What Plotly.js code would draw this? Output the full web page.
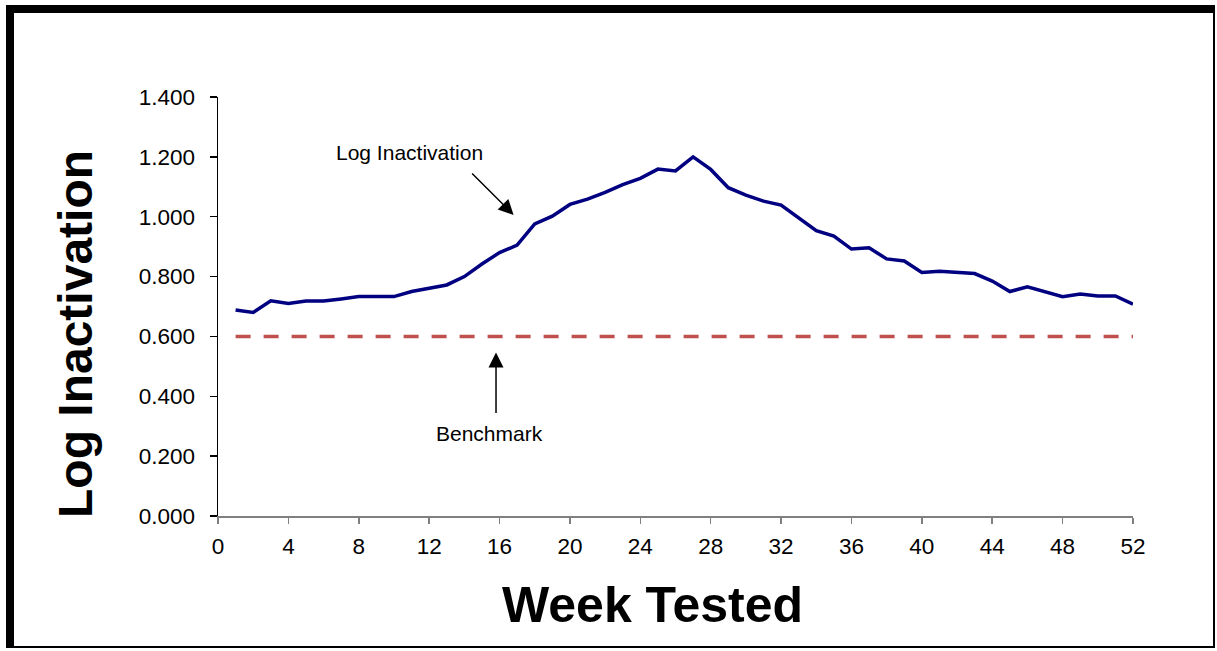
<!DOCTYPE html>
<html>
<head>
<meta charset="utf-8">
<script src="https://cdn.plot.ly/plotly-3.0.1.min.js"></script>
<style>
  html, body { margin: 0; padding: 0; background: #ffffff; }
  #chart { position: absolute; left: 0; top: 0; width: 1217px; height: 651px; }
  #frame {
    position: absolute; left: 6px; top: 5px; width: 1199px; height: 633px;
    border-left: 8px solid #000; border-top: 8px solid #000;
    border-right: 2px solid #000; border-bottom: 2px solid #000;
    pointer-events: none;
  }
</style>
</head>
<body>
<div id="chart"></div>
<div id="frame"></div>
<script>
// ---- data ----
const weeks = [1,2,3,4,5,6,7,8,9,10,11,12,13,14,15,16,17,18,19,20,21,22,23,24,25,26,
               27,28,29,30,31,32,33,34,35,36,37,38,39,40,41,42,43,44,45,46,47,48,49,50,51,52];
const logInactivation = [0.688,0.680,0.719,0.710,0.718,0.718,0.725,0.733,0.733,0.733,0.750,0.761,0.772,
                         0.800,0.842,0.880,0.905,0.976,1.002,1.041,1.059,1.081,1.107,1.128,1.159,1.153,
                         1.200,1.158,1.097,1.072,1.052,1.039,0.997,0.953,0.935,0.892,0.896,0.859,0.852,
                         0.814,0.818,0.815,0.810,0.785,0.750,0.766,0.750,0.733,0.742,0.735,0.735,0.708];
const benchmarkWeeks = [1, 52];
const benchmarkValues = [0.6, 0.6];
const xTickVals = [0,4,8,12,16,20,24,28,32,36,40,44,48,52];
const yTickVals = [0,0.2,0.4,0.6,0.8,1.0,1.2,1.4];
const xTitle = 'Week Tested';
const yTitle = 'Log Inactivation';

const FONT = '"Liberation Sans", Arial, sans-serif';

const traces = [
  {
    x: benchmarkWeeks, y: benchmarkValues, type: 'scatter', mode: 'lines', name: 'Benchmark',
    line: { color: '#C0504D', width: 3.5, dash: '15px,13px' }, hoverinfo: 'skip'
  },
  {
    x: weeks, y: logInactivation, type: 'scatter', mode: 'lines', name: 'Log Inactivation',
    line: { color: '#000080', width: 3.5 }
  }
];

const layout = {
  width: 1217, height: 651,
  margin: { l: 218, r: 84, t: 97, b: 135, pad: 0 },
  paper_bgcolor: '#ffffff', plot_bgcolor: '#ffffff',
  showlegend: false,
  font: { family: FONT, color: '#000000', size: 21 },
  xaxis: {
    range: [0, 52], tickmode: 'array', tickvals: xTickVals,
    ticks: 'outside', ticklen: 6, tickwidth: 1.5, tickcolor: '#808080',
    showline: true, linecolor: '#808080', linewidth: 1.5,
    showgrid: false, zeroline: false, ticklabelstandoff: 3,
    tickfont: { family: FONT, size: 22.5, color: '#000' }
  },
  yaxis: {
    range: [0, 1.4], tickmode: 'array', tickvals: yTickVals, tickformat: '.3f',
    ticks: 'outside', ticklen: 7, tickwidth: 1.5, tickcolor: '#000',
    showline: true, linecolor: '#000', linewidth: 1.5,
    showgrid: false, zeroline: false, ticklabelstandoff: 10,
    tickfont: { family: FONT, size: 22.5, color: '#000' }
  },
  annotations: [
    { xref: 'paper', yref: 'paper', x: 0.4749, y: -0.2124, xanchor: 'center', yanchor: 'middle',
      text: '<b>' + xTitle + '</b>', showarrow: false,
      font: { family: FONT, size: 50, color: '#000' } },
    { xref: 'paper', yref: 'paper', x: -0.1552, y: 0.4344, xanchor: 'center', yanchor: 'middle',
      text: '<b>' + yTitle + '</b>', textangle: -90, showarrow: false,
      font: { family: FONT, size: 48, color: '#000' } },
    { xref: 'x', yref: 'y', x: 10.87, y: 1.216, text: 'Log Inactivation', showarrow: false,
      font: { family: FONT, size: 21, color: '#000' } },
    { xref: 'x', yref: 'y', x: 16.8, y: 1.006, text: '', showarrow: true,
      ax: -43, ay: -43, arrowhead: 2, arrowsize: 2, arrowwidth: 1.5, arrowcolor: '#000' },
    { xref: 'x', yref: 'y', x: 15.42, y: 0.277, text: 'Benchmark', showarrow: false,
      font: { family: FONT, size: 21, color: '#000' } },
    { xref: 'x', yref: 'y', x: 15.8, y: 0.546, text: '', showarrow: true,
      ax: 0, ay: 62, arrowhead: 2, arrowsize: 2, arrowwidth: 1.5, arrowcolor: '#000' }
  ]
};

Plotly.newPlot('chart', traces, layout, { displayModeBar: false, staticPlot: true });
</script>
</body>
</html>
